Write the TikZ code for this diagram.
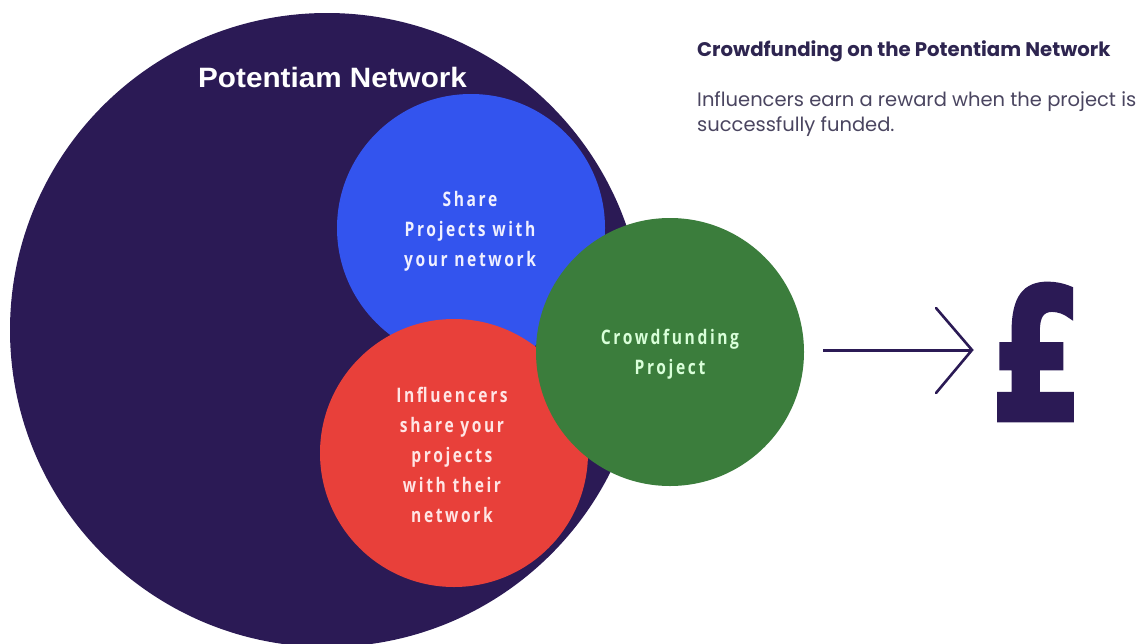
\documentclass[tikz,border=0pt]{standalone}
\usepackage{fontspec}
\setmainfont{Liberation Sans}
\newfontfamily\condfont{Open Sans}[FakeStretch=0.78,LetterSpace=13]
\newfontfamily\headfont{Poppins}
\newfontfamily\titlefont{Liberation Sans}[FakeStretch=1.06]
\newfontfamily\poundfont{DejaVu Sans}[FakeBold=4]
\usetikzlibrary{calc}
\definecolor{navy}{HTML}{2B1A55}
\definecolor{bluec}{HTML}{3354EE}
\definecolor{redc}{HTML}{E8403A}
\definecolor{greenc}{HTML}{3B7D3C}
\definecolor{txtnavy}{HTML}{2E2550}
\definecolor{txtgray}{HTML}{4A4560}
\tikzset{
  disc/.style={circle, inner sep=0pt, outer sep=0pt, minimum size=#1},
  ctext/.style={font=\condfont\bfseries\fontsize{20}{30}\selectfont, align=center, inner sep=0pt},
}
\begin{document}
\begin{tikzpicture}[x=1pt,y=-1pt]
\useasboundingbox[fill=white] (0,0) rectangle (1146,643);
\begin{scope}
\clip (0,0) rectangle (1146,643);
\node[disc=634pt, fill=navy] (net) at (327,330) {};
\end{scope}
\node[disc=268pt, fill=bluec] (share) at (471,228) {};
\node[disc=268pt, fill=redc] (infl) at (454,453) {};
\node[disc=268pt, fill=greenc] (crowd) at (670,352) {};

\node[font=\titlefont\bfseries\fontsize{28}{30}\selectfont, text=white, anchor=base west, inner sep=0pt] (title) at (198,87) {Potentiam Network};

\node[ctext, text=white!94!blue] (tshare) at (470,231) {Share\\Projects with\\your network};
\node[ctext, text=white!90!red] (tinfl) at (452,455) {Influencers\\share your\\projects\\with their\\network};
\node[ctext, text=white!85!green] (tcrowd) at (670,354) {Crowdfunding\\Project};

\node[font=\headfont\bfseries\fontsize{19.7}{22}\selectfont, text=txtnavy, anchor=base west, inner sep=0pt] (head) at (697,56) {Crowdfunding on the Potentiam Network};
\node[font=\headfont\fontsize{19.5}{25}\selectfont, text=txtgray, anchor=north west, align=left, inner sep=0pt] (body) at (697,91) {Influencers earn a reward when the project is\\successfully funded.};

\coordinate (as) at (823,350);
\coordinate (ae) at (972,350);
\draw[navy, line width=3pt] (as) -- (ae);
\draw[navy, line width=2.6pt, line cap=round, line join=miter] ($(ae)+(-36,-42)$) -- (ae) -- ++(-36,43);

\node[font=\poundfont\bfseries\fontsize{180}{180}\selectfont, text=navy, inner sep=0pt, anchor=south] (pound) at (1037,419) {\scalebox{0.72}[1]{£}};
\end{tikzpicture}
\end{document}
